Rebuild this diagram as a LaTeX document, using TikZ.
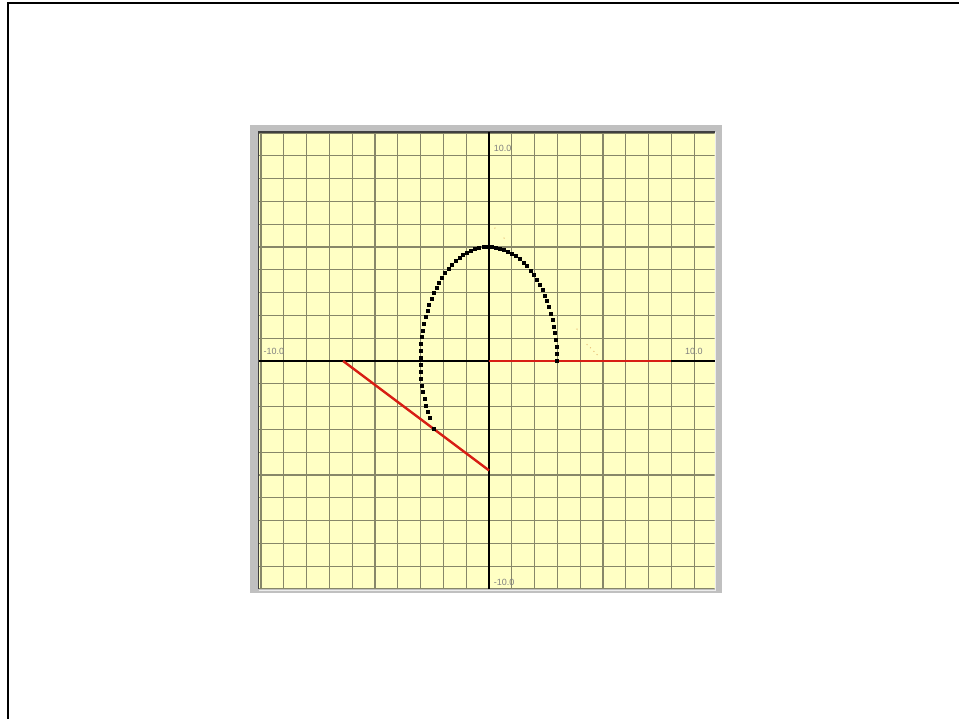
\documentclass[tikz,border=0pt]{standalone}
\usepackage{fontspec}
\setsansfont{Liberation Sans}
\usepackage{xcolor}
\usetikzlibrary{positioning}
\definecolor{plotbg}{RGB}{255,255,196}
\definecolor{gridcol}{RGB}{135,135,105}
\definecolor{framegray}{RGB}{192,192,192}
\definecolor{tickgray}{RGB}{128,128,128}
\definecolor{ladderred}{RGB}{215,30,20}

\begin{document}
\begin{tikzpicture}[x=1pt, y=1pt,
  every node/.style={font=\sffamily\fontsize{9}{10}\selectfont},
  gridline/.style={gridcol, line width=1.1pt},
  axis/.style={black, line width=2pt},
  ladder/.style={ladderred, line width=2.4pt},
  lbl/.style={text=tickgray, inner sep=0pt},
  trace/.style={fill=black},
  speck/.style={fill=brown!70!orange, opacity=0.55},
]
\useasboundingbox (0,0) rectangle (959,719);
\fill[white] (0,0) rectangle (959,719);

%% ── page frame (top and left only) ──────────────────────────────────
\draw[black, line width=2.5pt] (8,0) -- (8,716) -- (959,716);

%% ── grey panel ─────────────────────────────────────────────────────
\fill[framegray] (250,126) rectangle (722,594);

\begin{scope}[shift={(489pt,358pt)}, x=22.8pt, y=22.8pt]
  % plot area
  \fill[plotbg] (-10.1,-10) rectangle (9.9,10.05);
  \begin{scope}
    \clip (-10.1,-10) rectangle (9.9,10.05);
    \foreach \k in {-10,...,10} {
      \draw[gridline] (\k,-10.5) -- (\k,10.5);
      \draw[gridline] (-10.5,\k) -- (10.5,\k);
    }
  \end{scope}
  % sunken edge
  \draw[black!75, line width=1.4pt] (-10.1,-10) -- (-10.1,10.05) -- (9.9,10.05);
  \draw[white!85!gray, line width=1.2pt] (-10.1,-10.05) -- (9.95,-10.05) -- (9.95,10.05);

  % axes
  \coordinate (xl) at (-10.1,0);
  \coordinate (xr) at (9.9,0);
  \coordinate (yb) at (0,-10);
  \coordinate (yt) at (0,10.05);
  \draw[axis] (xl) -- (xr);
  \draw[axis] (yb) -- (yt);

  % axis limits
  \node[lbl] (ytop) at (0.60,9.31)   {10.0};
  \node[lbl] (xmin) at (-9.43,0.41)  {-10.0};
  \node[lbl] (xmax) at (8.99,0.41)   {10.0};
  \node[lbl] (ybot) at (0.66,-9.72)  {-10.0};

  % ladder: start position and current position
  \coordinate (o)    at (0,0);
  \coordinate (xend) at (8,0);
  \coordinate (ladA) at (-6.4,0);
  \coordinate (ladB) at (0,-4.8);
  \draw[ladder] (o) -- (xend);
  \draw[ladder] (ladA) -- (ladB);

  % traced point (3 from one end, 5 from the other)
  \foreach \t in {0,3.5,...,213,216.87}
    \fill[trace] ({3*cos(\t)},{5*sin(\t)}) +(-2pt,-2pt) rectangle +(2pt,2pt);

  % faint specks
  \foreach \sx/\sy in {0.26/5.83, 0.66/5.39, 3.86/1.40, 4.30/0.72,
                       4.45/0.58, 4.60/0.42, 4.74/0.28}
    \fill[speck] (\sx,\sy) circle (0.7pt);
\end{scope}

\end{tikzpicture}
\end{document}
